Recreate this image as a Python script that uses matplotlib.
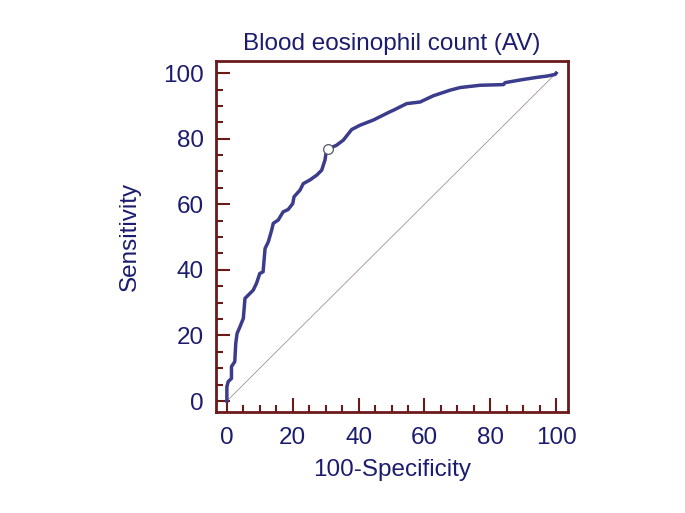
import matplotlib
matplotlib.use('Agg')
import matplotlib.pyplot as plt
from matplotlib.ticker import MultipleLocator

plt.rcParams['font.family'] = ['Liberation Sans', 'DejaVu Sans']

# ROC curve points (100-specificity, sensitivity)
fpr = [0, 0, 0.4, 1.4, 1.4, 2.4, 2.7, 3.1, 4.0, 5.0, 5.5, 7.0, 8.0, 9.0, 10.0,
       11.0, 11.6, 12.6, 13.6, 14.1, 15.6, 17.1, 18.6, 20.0, 20.4, 22.2, 23.2,
       25.2, 27.3, 28.8, 29.8, 30.1, 30.6, 33.3, 35.4, 37.9, 40.4, 44.5, 49.5,
       50.6, 54.6, 58.7, 62.7, 67.8, 70.8, 76.9, 84.0, 84.5, 89.0, 94.1, 97.2,
       99.7, 100]
tpr = [0, 4.3, 5.9, 6.9, 10.5, 12.0, 17.6, 20.6, 22.7, 25.2, 31.3, 32.8, 33.8,
       35.9, 38.9, 39.4, 46.5, 48.6, 52.1, 54.2, 55.2, 57.7, 58.4, 60.2, 62.3,
       64.3, 66.3, 67.4, 68.9, 70.4, 73.5, 75.5, 76.8, 78.0, 79.6, 82.8, 84.1,
       85.7, 88.2, 88.7, 90.7, 91.2, 93.1, 94.8, 95.6, 96.3, 96.5, 97.1, 97.9,
       98.7, 99.1, 99.6, 100]
cut_point = (30.6, 76.8)

text_col = '#1c1c6e'
frame_col = '#6b1a1a'
curve_col = '#3c3c8c'

fig = plt.figure(figsize=(6.85, 5.13), dpi=100)
ax = fig.add_axes([216 / 685, 1 - 412 / 513, 352 / 685, 351 / 513])

ax.plot([0, 100], [0, 100], color='#a09494', linewidth=0.6)
ax.plot(fpr, tpr, color=curve_col, linewidth=2.5, solid_joinstyle='round')
ax.plot(*cut_point, marker='o', markersize=7, markerfacecolor='white',
        markeredgecolor='#555566', markeredgewidth=0.9)

ax.set_xlim(-3.3, 103.6)
ax.set_ylim(-3.35, 103.7)
ax.xaxis.set_major_locator(MultipleLocator(20))
ax.xaxis.set_minor_locator(MultipleLocator(5))
ax.yaxis.set_major_locator(MultipleLocator(20))
ax.yaxis.set_minor_locator(MultipleLocator(5))
ax.tick_params(which='both', direction='in', color=frame_col, width=1.5,
               labelcolor=text_col, labelsize=17.5, top=False, right=False)
ax.tick_params(which='major', length=10)
ax.tick_params(which='minor', length=5)
ax.tick_params(axis='x', which='major', pad=11)
ax.tick_params(axis='y', which='major', pad=9)
for s in ax.spines.values():
    s.set_color(frame_col)
    s.set_linewidth(2)

ax.set_title('Blood eosinophil count (AV)', color=text_col, fontsize=17.5, pad=8)
ax.set_xlabel('100-Specificity', color=text_col, fontsize=17.5, labelpad=7)
ax.set_ylabel('Sensitivity', color=text_col, fontsize=17.5, labelpad=16)

fig.savefig('out.png', dpi=100)
